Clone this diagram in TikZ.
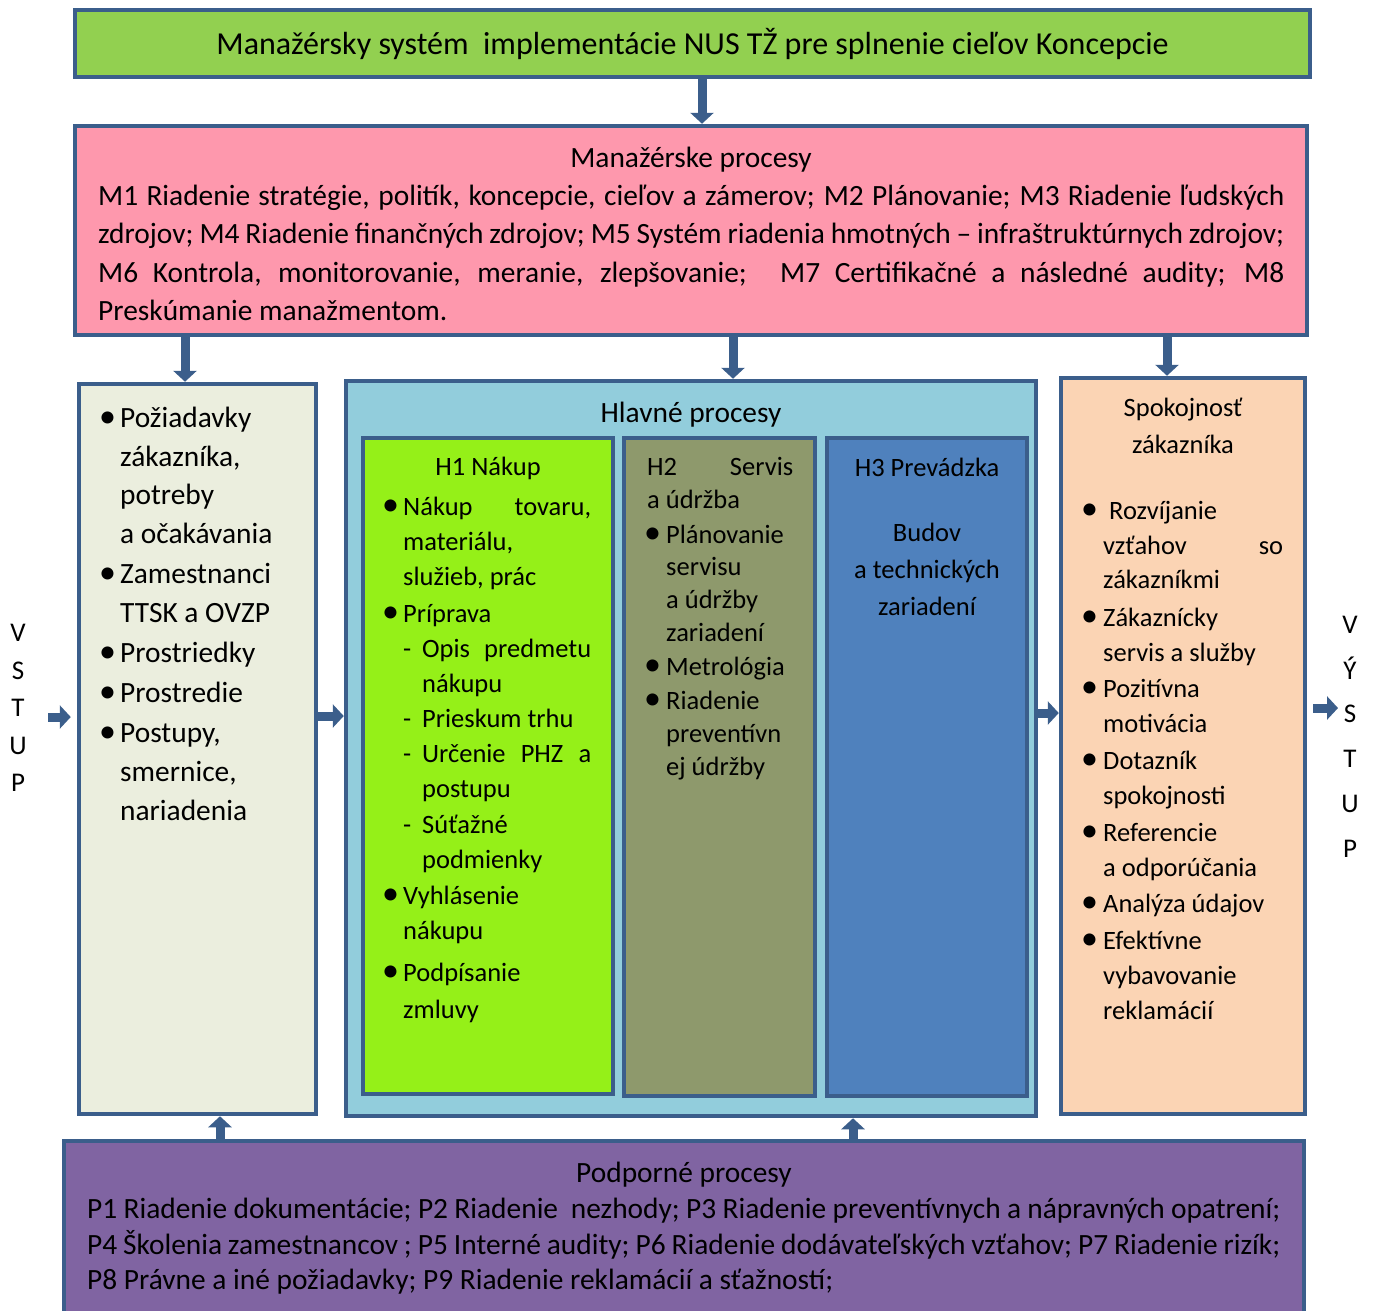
\documentclass[tikz,border=0pt]{standalone}
\usepackage{fontspec}
\setmainfont{Carlito}
\usetikzlibrary{arrows.meta}
\definecolor{bd}{RGB}{59,94,139}
\definecolor{ctitle}{RGB}{146,208,80}
\definecolor{cmgmt}{RGB}{254,152,173}
\definecolor{cin}{RGB}{235,238,222}
\definecolor{cmain}{RGB}{146,205,220}
\definecolor{chone}{RGB}{149,240,24}
\definecolor{chtwo}{RGB}{142,153,108}
\definecolor{chthree}{RGB}{79,129,189}
\definecolor{cout}{RGB}{251,212,180}
\definecolor{csup}{RGB}{128,100,162}
\newcommand\fsz[1]{\fontsize{#1pt}{#1pt}\selectfont}
\newcommand\jl[2]{\makebox[#1pt][s]{#2}}
\begin{document}
\begin{tikzpicture}[x=1pt,y=-1pt,
  box/.style={draw=bd, line width=4.5pt, rectangle, inner sep=0pt},
  ln/.style={anchor=base west, inner sep=0pt},
  lc/.style={anchor=base, inner sep=0pt},
  bul/.style={anchor=base west, inner sep=0pt, font=\fsz{34}},
  barrow/.style={draw=bd, line width=9pt, -{Triangle[width=23pt,length=11pt]}}]
\clip (0,0) rectangle (1375,1310);
\fill[white] (0,0) rectangle (1375,1310);

% boxes
\node[box, fill=ctitle, minimum width=1235, minimum height=67, font=\fsz{32}] (title) at (692.5,43.5)
  {Manažérsky systém \ implementácie NUS TŽ pre splnenie cieľov Koncepcie};
\node[box, fill=cmgmt, minimum width=1232, minimum height=209] (mgmt) at (691,230.5) {};
\node[box, fill=cin, minimum width=237, minimum height=730] (inp) at (197.5,749) {};
\node[box, fill=cmain, minimum width=690, minimum height=735] (main) at (691,748.5) {};
\node[box, fill=chone, minimum width=250, minimum height=656] (h1) at (488,766) {};
\node[box, fill=chtwo, minimum width=191, minimum height=658] (h2) at (719.5,767) {};
\node[box, fill=chthree, minimum width=200, minimum height=658] (h3) at (927,767) {};
\node[box, fill=cout, minimum width=244, minimum height=736] (out) at (1183,746) {};
\node[box, fill=csup, minimum width=1240, minimum height=190] (sup) at (684,1236) {};

% management processes
\begin{scope}[font=\fsz{29.4}]
\node[lc] (m0) at (691,167) {Manažérske procesy};
\node[ln] (m1) at (98,205) {\jl{1186}{M1 Riadenie stratégie, politík, koncepcie, cieľov a zámerov; M2 Plánovanie; M3 Riadenie ľudských}};
\node[ln] (m2) at (98,243) {\jl{1186}{zdrojov; M4 Riadenie finančných zdrojov; M5 Systém riadenia hmotných – infraštruktúrnych zdrojov;}};
\node[ln] (m3) at (98,282) {\jl{1186}{M6 Kontrola, monitorovanie, meranie, zlepšovanie; \ M7 Certifikačné a následné audity; M8}};
\node[ln] (m4) at (98,320) {Preskúmanie manažmentom.};
\end{scope}

% inputs
\begin{scope}[font=\fsz{29.4}]
\node[bul] (ib1) at (99,427) {•};
\node[ln] (i1) at (120,427) {Požiadavky};
\node[ln] (i2) at (120,466) {zákazníka,};
\node[ln] (i3) at (120,504) {potreby};
\node[ln] (i4) at (120,543) {a očakávania};
\node[bul] (ib2) at (99,583) {•};
\node[ln] (i5) at (120,583) {Zamestnanci};
\node[ln] (i6) at (120,622) {TTSK a OVZP};
\node[bul] (ib3) at (99,662) {•};
\node[ln] (i7) at (120,662) {Prostriedky};
\node[bul] (ib4) at (99,702) {•};
\node[ln] (i8) at (120,702) {Prostredie};
\node[bul] (ib5) at (99,742) {•};
\node[ln] (i9) at (120,742) {Postupy,};
\node[ln] (i10) at (120,781) {smernice,};
\node[ln] (i11) at (120,820) {nariadenia};
\node[lc] (hp) at (691,422) {Hlavné procesy};
\end{scope}

% H1
\begin{scope}[font=\fsz{26.5}]
\node[lc] (a0) at (488,475) {H1 Nákup};
\node[bul] (ab1) at (382,515) {•};
\node[ln] (a1) at (403,515) {\jl{188}{Nákup tovaru,}};
\node[ln] (a2) at (403,550) {materiálu,};
\node[ln] (a3) at (403,585) {služieb, prác};
\node[bul] (ab2) at (382,622) {•};
\node[ln] (a4) at (403,622) {Príprava};
\node[ln] (ad1) at (403,657) {-};
\node[ln] (a5) at (422,657) {\jl{169}{Opis predmetu}};
\node[ln] (a6) at (422,692) {nákupu};
\node[ln] (ad2) at (403,727) {-};
\node[ln] (a7) at (422,727) {Prieskum trhu};
\node[ln] (ad3) at (403,762) {-};
\node[ln] (a8) at (422,762) {\jl{169}{Určenie PHZ a}};
\node[ln] (a9) at (422,797) {postupu};
\node[ln] (ad4) at (403,833) {-};
\node[ln] (a10) at (422,833) {Súťažné};
\node[ln] (a11) at (422,868) {podmienky};
\node[bul] (ab3) at (382,904) {•};
\node[ln] (a12) at (403,904) {Vyhlásenie};
\node[ln] (a13) at (403,939) {nákupu};
\node[bul] (ab4) at (382,981) {•};
\node[ln] (a14) at (403,981) {Podpísanie};
\node[ln] (a15) at (403,1018) {zmluvy};
\end{scope}

% H2
\begin{scope}[font=\fsz{26.5}]
\node[ln] (b0) at (647,475) {\jl{146}{H2 Servis}};
\node[ln] (b1) at (647,508) {a údržba};
\node[bul] (bb1) at (644,543) {•};
\node[ln] (b2) at (666,543) {Plánovanie};
\node[ln] (b3) at (666,575) {servisu};
\node[ln] (b4) at (666,608) {a údržby};
\node[ln] (b5) at (666,641) {zariadení};
\node[bul] (bb2) at (644,675) {•};
\node[ln] (b6) at (666,675) {Metrológia};
\node[bul] (bb3) at (644,709) {•};
\node[ln] (b7) at (666,709) {Riadenie};
\node[ln] (b8) at (666,742) {preventívn};
\node[ln] (b9) at (666,775) {ej údržby};
\end{scope}

% H3
\begin{scope}[font=\fsz{26.5}]
\node[lc] (c0) at (927,476) {H3 Prevádzka};
\node[lc] (c1) at (927,541) {Budov};
\node[lc] (c2) at (927,578) {a technických};
\node[lc] (c3) at (927,615) {zariadení};
\end{scope}

% customer satisfaction
\begin{scope}[font=\fsz{26.5}]
\node[lc] (o0) at (1183,416) {Spokojnosť};
\node[lc] (o1) at (1183,453) {zákazníka};
\node[bul] (ob1) at (1081,519) {•};
\node[ln] (o2) at (1109,519) {Rozvíjanie};
\node[ln] (o3) at (1103,554) {\jl{180}{vzťahov so}};
\node[ln] (o4) at (1103,588) {zákazníkmi};
\node[bul] (ob2) at (1081,626) {•};
\node[ln] (o5) at (1103,626) {Zákaznícky};
\node[ln] (o6) at (1103,661) {servis a služby};
\node[bul] (ob3) at (1081,697) {•};
\node[ln] (o7) at (1103,697) {Pozitívna};
\node[ln] (o8) at (1103,732) {motivácia};
\node[bul] (ob4) at (1081,769) {•};
\node[ln] (o9) at (1103,769) {Dotazník};
\node[ln] (o10) at (1103,804) {spokojnosti};
\node[bul] (ob5) at (1081,841) {•};
\node[ln] (o11) at (1103,841) {Referencie};
\node[ln] (o12) at (1103,876) {a odporúčania};
\node[bul] (ob6) at (1081,912) {•};
\node[ln] (o13) at (1103,912) {Analýza údajov};
\node[bul] (ob7) at (1081,949) {•};
\node[ln] (o14) at (1103,949) {Efektívne};
\node[ln] (o15) at (1103,984) {vybavovanie};
\node[ln] (o16) at (1103,1019) {reklamácií};
\end{scope}

% support processes
\begin{scope}[font=\fsz{29.4}]
\node[lc] (s0) at (684,1182) {Podporné procesy};
\node[ln] (s1) at (87,1218) {\jl{1193}{P1 Riadenie dokumentácie; P2 Riadenie \ nezhody; P3 Riadenie preventívnych a nápravných opatrení;}};
\node[ln] (s2) at (87,1254) {\jl{1193}{P4 Školenia zamestnancov ; P5 Interné audity; P6 Riadenie dodávateľských vzťahov; P7 Riadenie rizík;}};
\node[ln] (s3) at (87,1289) {P8 Právne a iné požiadavky; P9 Riadenie reklamácií a sťažností;};
\end{scope}

% input / output labels
\begin{scope}[font=\fsz{27}, inner sep=0pt]
\node (v1) at (18,633) {V};
\node (v2) at (18,671) {S};
\node (v3) at (18,708) {T};
\node (v4) at (18,746) {U};
\node (v5) at (18,783) {P};
\node (w1) at (1350,625) {V};
\node (w2) at (1350,668) {Ý};
\node (w3) at (1350,714) {S};
\node (w4) at (1350,759) {T};
\node (w5) at (1350,804) {U};
\node (w6) at (1350,849) {P};
\end{scope}

% connectors
\coordinate (xa) at (702,0);
\coordinate (xb) at (185,0);
\coordinate (xc) at (733,0);
\coordinate (xd) at (1167,0);
\coordinate (xe) at (220,0);
\coordinate (xf) at (853,0);
\coordinate (ya) at (0,717);
\coordinate (yb) at (0,716);
\coordinate (yc) at (0,713);
\coordinate (yd) at (0,708);
\coordinate (vin) at (48,717);
\coordinate (vout) at (1338,708);
\draw[barrow] (title.south -| xa) -- (mgmt.north -| xa);
\draw[barrow] (mgmt.south -| xb) -- (inp.north -| xb);
\draw[barrow] (mgmt.south -| xc) -- (main.north -| xc);
\draw[barrow] (mgmt.south -| xd) -- (out.north -| xd);
\draw[barrow] (sup.north -| xe) -- (inp.south -| xe);
\draw[barrow] (sup.north -| xf) -- (main.south -| xf);
\draw[barrow, shorten >=6pt] (vin) -- (inp.west |- ya);
\draw[barrow] (inp.east |- yb) -- (main.west |- yb);
\draw[barrow] (main.east |- yc) -- (out.west |- yc);
\draw[barrow, shorten <=6pt] (out.east |- yd) -- (vout);
\end{tikzpicture}
\end{document}
